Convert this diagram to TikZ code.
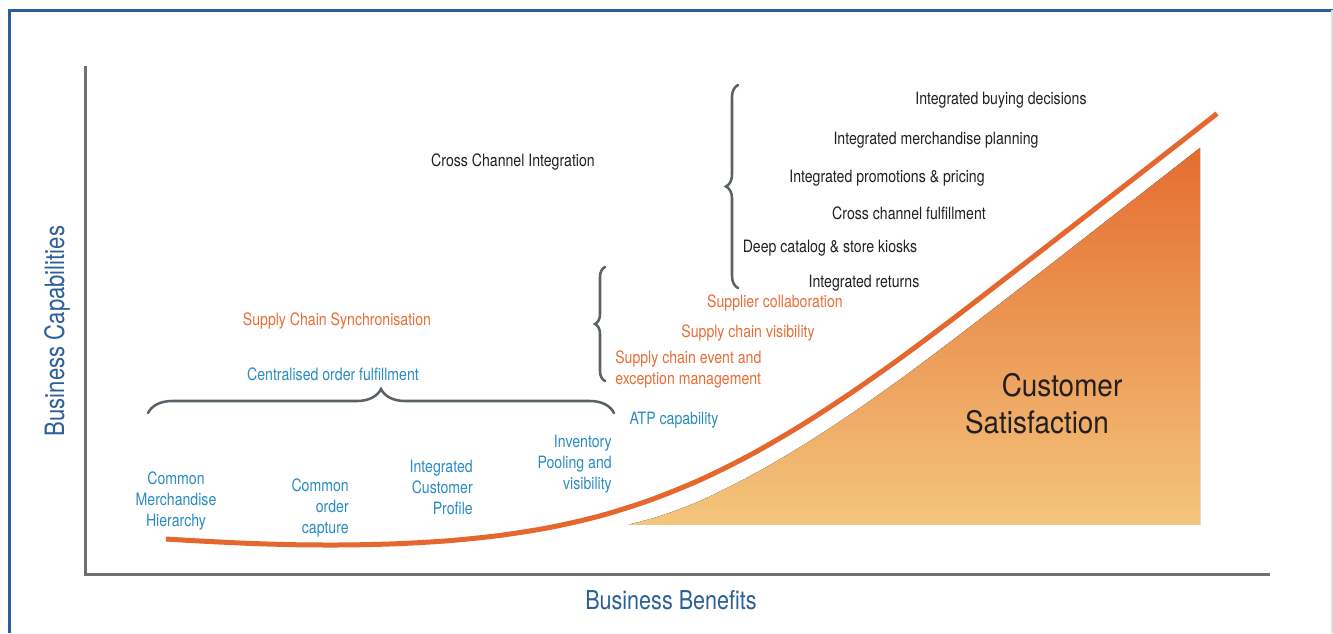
\documentclass[tikz,border=0pt]{standalone}
\usepackage{fontspec}
\setmainfont{TeX Gyre Heros}[FakeStretch=0.83]
\newfontfamily\bigfont{TeX Gyre Heros}[FakeStretch=0.9]
\usetikzlibrary{decorations.pathreplacing}
\definecolor{frameblue}{HTML}{2C5F99}
\definecolor{axisgray}{HTML}{6D7174}
\definecolor{curveorange}{HTML}{E5672E}
\definecolor{txtorange}{HTML}{E86D36}
\definecolor{txtblue}{HTML}{2A8BC2}
\definecolor{txtdark}{HTML}{231F20}
\definecolor{bracegray}{HTML}{5B6267}
\definecolor{shOrange}{HTML}{E4692D}
\definecolor{shGold}{HTML}{EEAA3F}
\definecolor{shPale}{HTML}{F6D88C}
\begin{document}
\begin{tikzpicture}[x=0.75pt,y=-0.75pt,
  lbl/.style={inner sep=0pt, font=\fontsize{12.75pt}{15.75pt}\selectfont, align=center},
  dark/.style={lbl, text=txtdark},
  org/.style={lbl, text=txtorange},
  blu/.style={lbl, text=txtblue},
  axislbl/.style={inner sep=0pt, text=frameblue},
  bigtxt/.style={inner sep=0pt, text=txtdark, font=\bigfont\fontsize{23.25pt}{27.75pt}\selectfont},
  curly/.style={draw=bracegray, line width=1.9pt, line cap=round, decorate, decoration={brace, amplitude=#1}},
  axisline/.style={draw=axisgray, line width=2.25pt},
]
\useasboundingbox (0,0) rectangle (1333,633);

% frame
\draw[frameblue, line width=2.25pt] (9,633) -- (9,10) -- (1333,10);
\draw[black!12, line width=1pt] (1332,10) -- (1332,633);

% shaded area
\begin{scope}
  \clip (600,0) rectangle (1200,524);
  \fill[top color=shOrange, middle color=shGold, bottom color=shPale]
    (629,524.5) -- plot[smooth] coordinates {(629,524.5) (660,516) (700,500.9) (750,476.1) (800,447.1) (850,414.6) (900,379.4) (950,342.1) (1000,303.6) (1050,264.9) (1100,225.9) (1150,186.9) (1217,134.6)}
    -- (1217,600) -- (629,600) -- cycle;
\end{scope}

% axes
\coordinate (ytop) at (85,66);
\coordinate (origin) at (85,574);
\coordinate (xend) at (1270,574);
\draw[axisline] (ytop) -- (origin) -- (xend);

% curve
\draw[curveorange, line width=3.75pt, line cap=butt]
  plot[smooth] coordinates {(166,539) (200,541) (250,543.4) (300,544.8) (350,544.9) (400,543.6) (450,540.6) (500,535.4) (550,527.4) (600,515.9) (650,500.1) (700,479.9) (750,455.1) (800,426.1) (850,393.6) (900,358.4) (950,321.1) (1000,282.6) (1050,243.9) (1100,204.9) (1150,165.9) (1217,113.6)};

% braces
\coordinate (hb1) at (148,413);
\coordinate (hb2) at (614,413);
\draw[curly=18pt] (hb1) -- (hb2);
\coordinate (vb1a) at (605,381);
\coordinate (vb1b) at (605,267);
\draw[curly=7.5pt] (vb1a) -- (vb1b);
\coordinate (vb2a) at (738,288);
\coordinate (vb2b) at (738,85);
\draw[curly=9pt] (vb2a) -- (vb2b);

% axis labels
\node[axislbl, rotate=90, font=\fontsize{20pt}{24pt}\selectfont] (ylab) at (57,331) {Business Capabilities};
\node[axislbl, font=\fontsize{19.5pt}{24pt}\selectfont] (xlab) at (671,600) {Business Benefits};

% dark labels
\node[dark] (buy) at (1001,100) {Integrated buying decisions};
\node[dark] (merch) at (936,140) {Integrated merchandise planning};
\node[dark] (promo) at (887,178) {Integrated promotions \& pricing};
\node[dark] (ccf) at (909,213) {Cross channel fulfillment};
\node[dark] (deep) at (830,248) {Deep catalog \& store kiosks};
\node[dark] (ret) at (864,283) {Integrated returns};
\node[dark] (cci) at (513,162) {Cross Channel Integration};

% orange labels
\node[org] (scs) at (337,321) {Supply Chain Synchronisation};
\node[org] (supc) at (775,303) {Supplier collaboration};
\node[org] (scv) at (748,333) {Supply chain visibility};
\node[org, align=left, anchor=west] (sce) at (615,369) {Supply chain event and\\exception management};

% blue labels
\node[blu] (cof) at (333,374) {Centralised order fulfillment};
\node[blu] (atp) at (674,420) {ATP capability};
\node[blu] (cmh) at (176,501) {Common\\Merchandise\\Hierarchy};
\node[blu, align=right, anchor=east] (coc) at (349,508) {Common\\order\\capture};
\node[blu, align=right, anchor=east] (icp) at (473,487) {Integrated\\Customer\\Profile};
\node[blu, align=right, anchor=east] (ipv) at (612,464) {Inventory\\Pooling and\\visibility};

% customer satisfaction
\node[bigtxt] (cs1) at (1062,385) {Customer};
\node[bigtxt] (cs2) at (1037,422) {Satisfaction};
\end{tikzpicture}
\end{document}
